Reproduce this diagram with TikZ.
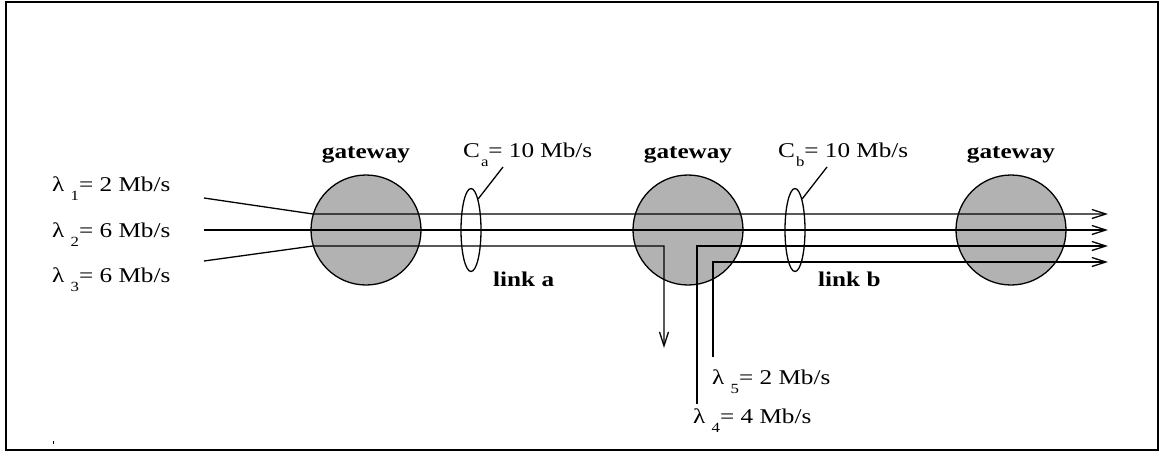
\documentclass[tikz,border=0pt]{standalone}
\usepackage{fontspec}
\setmainfont{Liberation Serif}[FakeStretch=1.2]
\usetikzlibrary{arrows.meta,shapes.geometric}
\newcommand\lowsub[1]{\raisebox{-0.45em}{\fontsize{14}{14}\selectfont #1}}
\begin{document}
\begin{tikzpicture}[x=1pt,y=-1pt,
  every node/.style={inner sep=0pt,font=\fontsize{21}{25}\selectfont},
  gw/.style={circle,draw,line width=1.3pt,fill=black!30,minimum size=110pt},
  gwlabel/.style={anchor=base,font=\fontsize{21}{25}\selectfont\bfseries},
  linklabel/.style={anchor=base west,font=\fontsize{21}{25}\selectfont\bfseries},
  rate/.style={anchor=base west},
  capring/.style={ellipse,draw,line width=1.3pt,minimum width=20pt,minimum height=83pt},
  flow/.style={line width=1.3pt},
  tip/.style={flow,-{Straight Barb[length=14pt,width=9pt,line width=1.3pt]}}]
\useasboundingbox (0,0) rectangle (1160,453);
\draw[line width=2pt] (5.5,1.5) rectangle (1157.5,449.5);

% gateways
\node[gw] (g1) at (366,230) {};
\node[gw] (g2) at (688,230) {};
\node[gw] (g3) at (1011,230) {};
\node[gwlabel] (g1l) at (366,158) {gateway};
\node[gwlabel] (g2l) at (688,158) {gateway};
\node[gwlabel] (g3l) at (1011,158) {gateway};

% link capacities
\node[capring] (ea) at (471,230) {};
\node[capring] (eb) at (795,230) {};
\coordinate (ca) at (503,167);
\coordinate (cb) at (827,167);
\draw[flow] (ea.77) -- (ca);
\draw[flow] (eb.77) -- (cb);
\node[rate] (cal) at (463,157) {C\kern1pt\lowsub{a}= 10 Mb/s};
\node[rate] (cbl) at (778,157) {C\kern1pt\lowsub{b}= 10 Mb/s};
\node[linklabel] (la) at (493,286) {link a};
\node[linklabel] (lb) at (818,286) {link b};

% flow labels
\node[rate] (l1) at (52,191) {λ \lowsub{1}= 2 Mb/s};
\node[rate] (l2) at (52,237) {λ \lowsub{2}= 6 Mb/s};
\node[rate] (l3) at (52,282) {λ \lowsub{3}= 6 Mb/s};
\node[rate] (l5) at (712,384) {λ \lowsub{5}= 2 Mb/s};
\node[rate] (l4) at (693,423) {λ \lowsub{4}= 4 Mb/s};

% flow paths
\coordinate (s1) at (204,198);
\coordinate (s2) at (204,230);
\coordinate (s3) at (204,261);
\coordinate (s4) at (697,404);
\coordinate (s5) at (713,357);
\coordinate (e1) at (1108,214);
\coordinate (e2) at (1108,230);
\coordinate (e4) at (1108,246);
\coordinate (e5) at (1108,262);
\coordinate (e3) at (664,348);
\draw[tip] (s1) -- (313,214) -- (e1);
\draw[tip] (s2) -- (e2);
\draw[tip] (s3) -- (313,246) -- (664,246) -- (e3);
\draw[tip] (s4) -- (697,246) -- (e4);
\draw[tip] (s5) -- (713,262) -- (e5);

% small mark near the lower left corner
\fill (52.5,440.5) rectangle (53.5,443.5);
\end{tikzpicture}
\end{document}
